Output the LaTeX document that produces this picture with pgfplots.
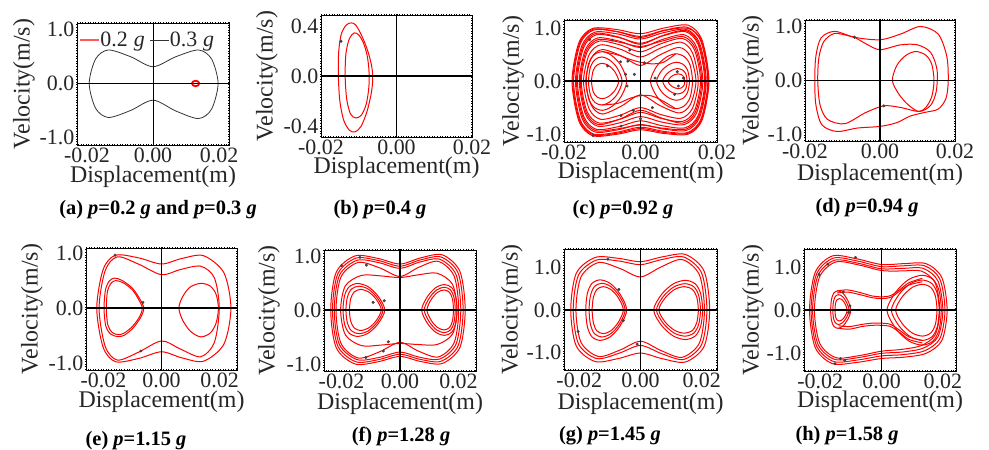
\documentclass[border=0pt]{standalone}
\usepackage{fontspec}
\setmainfont{Liberation Serif}
\usepackage{pgfplots}
\pgfplotsset{compat=1.18}
\newcommand\tfs{\fontsize{22}{25}\selectfont}
\newcommand\lfs{\fontsize{24}{27}\selectfont}
\newcommand\cfs{\fontsize{20.5}{23}\selectfont\bfseries}
\newcommand\bi[1]{\textbf{\textit{#1}}}
\pgfplotsset{
 panel/.style={
  scale only axis, clip=true, scaled ticks=false,
  axis line style={line width=0.6bp, black},
  tick style={draw=none},
  xtick={-0.02,0,0.02}, xticklabels={-0.02,0.00,0.02},
  ytick={-1,0,1}, yticklabels={-1.0,0.0,1.0},
  tick label style={font=\tfs, text=black!85},
  xticklabel style={anchor=north, inner sep=0pt, yshift=-3bp},
  yticklabel style={anchor=east, inner sep=0pt, xshift=-2.5bp},
  xlabel={Displacement(m)}, ylabel={Velocity(m/s)},
  label style={font=\lfs, text=black!85},
 },
 rl/.style={red, line width=1bp, smooth cycle},
 ro/.style={red, line width=1bp, smooth},
 dots/.style={only marks, mark=*, mark size=1.3bp, black!75},
 zl/.style={black, line width=1.7bp},
}
\begin{document}
\begin{tikzpicture}
\useasboundingbox (0,0) rectangle (989bp,450bp);

% ---------------- (a)
\begin{axis}[panel, name=a, at={(77bp,305bp)}, width=152bp, height=122bp,
 xmin=-0.023, xmax=0.023, ymin=-1.14, ymax=1.12,
 xlabel style={at={(axis description cs:0.5,0)}, anchor=center, yshift=-32bp},
 ylabel style={at={(axis description cs:-0.349,0.5)}, anchor=center},
 legend style={draw=none, fill=none, at={(axis description cs:0.015,0.86)}, anchor=west,
   legend columns=2, font=\tfs, inner sep=0pt, nodes={inner sep=0.6bp, text=black!85},
   /tikz/every even column/.append style={column sep=4bp}},
 legend cell align=left]
\addplot[red, line width=1.8bp, smooth cycle,
 legend image code/.code={\draw[red!65, line width=1.3bp] (0bp,0bp) -- (19bp,0bp);}]
 coordinates {(0.0118,0) (0.0121,0.035) (0.0129,0.05) (0.0137,0.035) (0.0140,0) (0.0137,-0.035) (0.0129,-0.05) (0.0121,-0.035)};
\addlegendentry{0.2\hspace{6bp}\textit{g}}
\addplot[black!80, line width=0.8bp, smooth cycle,
 legend image code/.code={\draw[black!80, line width=0.9bp] (0bp,0bp) -- (19bp,0bp);}]
 coordinates {(-0.0193,0) (-0.01737,0.453) (-0.01351,0.62) (-0.00676,0.495) (0,0.31) (0.0069,0.495) (0.01379,0.62) (0.01773,0.453) (0.0197,0) (0.01773,-0.475) (0.01379,-0.65) (0.0069,-0.51) (0,-0.31) (-0.00676,-0.50) (-0.01351,-0.63) (-0.01737,-0.46)};
\addlegendentry{0.3\hspace{6bp}\textit{g}}
\addplot[zl, forget plot] coordinates {(-0.03,0) (0.03,0)};
\addplot[black, line width=0.8bp, forget plot] coordinates {(0,-2) (0,2)};
\end{axis}

% ---------------- (b)
\begin{axis}[panel, name=b, at={(321bp,313bp)}, width=151bp, height=122bp,
 xmin=-0.02, xmax=0.02, ymin=-0.485, ymax=0.49,
 ytick={-0.4,0,0.4}, yticklabels={-0.4,0.0,0.4},
 xlabel style={at={(axis description cs:0.5,0)}, anchor=center, yshift=-30.5bp},
 ylabel style={at={(axis description cs:-0.358,0.5)}, anchor=center}]
\addplot[rl] coordinates {(-0.0154,0) (-0.0153,0.2) (-0.0146,0.34) (-0.0133,0.41) (-0.0120,0.427) (-0.0108,0.41) (-0.0093,0.33) (-0.0078,0.22) (-0.0067,0.1) (-0.0063,0) (-0.0066,-0.12) (-0.0078,-0.28) (-0.0094,-0.40) (-0.0110,-0.445) (-0.0125,-0.43) (-0.0140,-0.35) (-0.0150,-0.2)};
\addplot[rl] coordinates {(-0.0136,0) (-0.0134,0.18) (-0.0125,0.3) (-0.0112,0.347) (-0.0100,0.33) (-0.0088,0.27) (-0.0078,0.17) (-0.0073,0.05) (-0.0073,-0.08) (-0.0080,-0.22) (-0.0093,-0.31) (-0.0108,-0.333) (-0.0122,-0.3) (-0.0132,-0.18)};
\addplot[zl] coordinates {(-0.03,0) (0.03,0)};
\addplot[zl] coordinates {(0,-2) (0,2)};
\addplot[dots] coordinates {(-0.0147,0.28)};
\end{axis}

% ---------------- (c)
\begin{axis}[panel, name=c, at={(564bp,308bp)}, width=153bp, height=122bp,
 xmin=-0.02, xmax=0.02, ymin=-1.15, ymax=1.16,
 xlabel style={at={(axis description cs:0.5,0)}, anchor=center, yshift=-31bp},
 ylabel style={at={(axis description cs:-0.333,0.5)}, anchor=center}]
\addplot[rl] coordinates {(-0.0179,0) (-0.01611,0.73) (-0.01253,1.00) (-0.00627,0.98) (0,0.90) (0.00627,1.01) (0.01253,1.06) (0.01611,0.774) (0.0179,0) (0.01611,-0.73) (0.01253,-1.00) (0.00627,-0.99) (0,-0.92) (-0.00627,-1.005) (-0.01253,-1.03) (-0.01611,-0.752)};
\addplot[rl] coordinates {(-0.0177,0) (-0.01593,0.719) (-0.01239,0.985) (-0.0062,0.94) (0,0.83) (0.00621,0.96) (0.01243,1.00) (0.01598,0.76) (0.01775,0) (0.01598,-0.719) (0.01243,-0.985) (0.00621,-0.97) (0,-0.895) (-0.0062,-0.985) (-0.01239,-1.015) (-0.01593,-0.741)};
\addplot[rl] coordinates {(-0.0175,0) (-0.01575,0.708) (-0.01225,0.97) (-0.00613,0.94) (0,0.85) (0.00616,0.965) (0.01232,1.02) (0.01584,0.745) (0.0176,0) (0.01584,-0.708) (0.01232,-0.97) (0.00616,-0.95) (0,-0.87) (-0.00613,-0.965) (-0.01225,-1.00) (-0.01575,-0.73)};
\addplot[rl] coordinates {(-0.0170,0) (-0.0153,0.679) (-0.0119,0.93) (-0.00595,0.895) (0,0.80) (0.00602,0.92) (0.01204,0.98) (0.01548,0.715) (0.0172,0) (0.01548,-0.679) (0.01204,-0.93) (0.00602,-0.905) (0,-0.82) (-0.00595,-0.92) (-0.0119,-0.96) (-0.0153,-0.70)};
\addplot[rl] coordinates {(-0.01675,0) (-0.01508,0.66) (-0.01173,0.905) (-0.00587,0.84) (0,0.70) (0.00595,0.87) (0.0119,0.96) (0.0153,0.70) (0.017,0) (0.0153,-0.66) (0.0119,-0.905) (0.00595,-0.89) (0,-0.83) (-0.00587,-0.90) (-0.01173,-0.935) (-0.01508,-0.682)};
\addplot[rl] coordinates {(-0.0165,0) (-0.01485,0.642) (-0.01155,0.88) (-0.00578,0.83) (0,0.72) (0.00588,0.86) (0.01176,0.94) (0.01512,0.686) (0.0168,0) (0.01512,-0.642) (0.01176,-0.88) (0.00588,-0.845) (0,-0.75) (-0.00578,-0.86) (-0.01155,-0.91) (-0.01485,-0.664)};
\addplot[rl] coordinates {(-0.0160,0) (-0.0144,0.599) (-0.0112,0.82) (-0.0056,0.76) (0,0.64) (0.0057,0.79) (0.01141,0.88) (0.01467,0.642) (0.0163,0) (0.01467,-0.599) (0.01141,-0.82) (0.0057,-0.775) (0,-0.67) (-0.0056,-0.79) (-0.0112,-0.85) (-0.0144,-0.62)};
\addplot[rl] coordinates {(-0.01575,0) (-0.01418,0.577) (-0.01103,0.79) (-0.00552,0.74) (0,0.66) (0.0056,0.76) (0.0112,0.845) (0.0144,0.616) (0.016,0) (0.0144,-0.577) (0.0112,-0.79) (0.0056,-0.70) (0,-0.55) (-0.00552,-0.72) (-0.01103,-0.82) (-0.01418,-0.60)};
\addplot[rl] coordinates {(-0.0155,0) (-0.01395,0.555) (-0.01085,0.76) (-0.00543,0.69) (0,0.56) (0.0055,0.715) (0.01099,0.81) (0.01413,0.591) (0.0157,0) (0.01413,-0.555) (0.01099,-0.76) (0.0055,-0.705) (0,-0.59) (-0.00543,-0.72) (-0.01085,-0.79) (-0.01395,-0.577)};
\addplot[rl] coordinates {(-0.0149,0) (-0.01341,0.504) (-0.01043,0.69) (-0.00522,0.605) (0,0.46) (0.00529,0.63) (0.01057,0.74) (0.01359,0.54) (0.0151,0) (0.01359,-0.511) (0.01057,-0.70) (0.00529,-0.63) (0,-0.50) (-0.00522,-0.64) (-0.01043,-0.72) (-0.01341,-0.526)};
\addplot[rl] coordinates {(-0.0143,0) (-0.01287,0.438) (-0.01001,0.60) (-0.005,0.48) (0,0.30) (0.00508,0.50) (0.01015,0.64) (0.01305,0.467) (0.0145,0) (0.01305,-0.438) (0.01015,-0.60) (0.00508,-0.46) (0,-0.26) (-0.005,-0.47) (-0.01001,-0.62) (-0.01287,-0.453)};
\addplot[rl] coordinates {(-0.0128,0) (-0.01237,0.204) (-0.01138,0.306) (-0.00996,0.34) (-0.0084,0.299) (-0.00677,0.187) (-0.0057,0) (-0.00677,-0.182) (-0.0084,-0.29) (-0.00996,-0.33) (-0.01138,-0.297) (-0.01237,-0.198)};
\addplot[rl] coordinates {(-0.0136,0) (-0.01307,0.276) (-0.01184,0.414) (-0.01008,0.46) (-0.00814,0.405) (-0.00612,0.253) (-0.0048,0) (-0.00612,-0.248) (-0.00814,-0.396) (-0.01008,-0.45) (-0.01184,-0.405) (-0.01307,-0.27)};
\addplot[rl] coordinates {(-0.0142,0) (-0.01356,0.336) (-0.01208,0.504) (-0.00996,0.56) (-0.00763,0.493) (-0.00519,0.308) (-0.0036,0) (-0.00519,-0.303) (-0.00763,-0.484) (-0.00996,-0.55) (-0.01208,-0.495) (-0.01356,-0.33)};
\addplot[rl] coordinates {(0.0026,0) (0.00425,0.286) (0.00678,0.458) (0.0092,0.52) (0.0114,0.468) (0.01294,0.312) (0.0136,0) (0.01294,-0.312) (0.0114,-0.468) (0.0092,-0.52) (0.00678,-0.458) (0.00425,-0.286)};
\addplot[rl] coordinates {(0.0042,0) (0.00549,0.198) (0.00747,0.317) (0.00936,0.36) (0.01108,0.324) (0.01228,0.216) (0.0128,0) (0.01228,-0.216) (0.01108,-0.324) (0.00936,-0.36) (0.00747,-0.317) (0.00549,-0.198)};
\addplot[rl] coordinates {(0.0058,0) (0.00676,0.132) (0.00823,0.211) (0.00964,0.24) (0.01092,0.216) (0.01182,0.144) (0.0122,0) (0.01182,-0.144) (0.01092,-0.216) (0.00964,-0.24) (0.00823,-0.211) (0.00676,-0.132)};
\addplot[rl] coordinates {(0.0072,0) (0.00786,0.077) (0.00887,0.123) (0.00984,0.14) (0.01072,0.126) (0.01134,0.084) (0.0116,0) (0.01134,-0.084) (0.01072,-0.126) (0.00984,-0.14) (0.00887,-0.123) (0.00786,-0.077)};
\addplot[ro] coordinates {(-0.0098,0.56) (-0.006,0.50) (-0.003,0.42) (0,0.36) (0.003,0.33) (0.006,0.36) (0.0092,0.52)};
\addplot[ro] coordinates {(-0.0100,-0.45) (-0.006,-0.42) (-0.003,-0.33) (0,-0.27) (0.003,-0.28) (0.006,-0.38) (0.0092,-0.52)};
\addplot[zl] coordinates {(-0.03,0) (0.03,0)};
\addplot[zl] coordinates {(0,-2) (0,2)};
\addplot[dots] coordinates {(-0.0133,0.79) (-0.0074,0.78) (-0.0028,0.59) (-0.0052,0.37) (-0.0033,0.38) (-0.0086,0.29) (-0.0039,0.13) (-0.0016,0.13) (-0.0035,-0.09) (0.0010,0.35) (0.0038,0.06) (0.0096,0.18) (0.0112,0.06) (0.0099,-0.09) (0.0089,-0.25) (0,-0.27) (0.0031,-0.5) (-0.0019,-0.55) (-0.0051,-0.65) (0,-0.71) (-0.0051,-0.85) (-0.0124,-1.03)};
\end{axis}

% ---------------- (d)
\begin{axis}[panel, name=d, at={(805bp,309bp)}, width=150bp, height=121bp,
 xmin=-0.02, xmax=0.02, ymin=-1.12, ymax=1.12,
 xlabel style={at={(axis description cs:0.5,0)}, anchor=center, yshift=-34bp},
 ylabel style={at={(axis description cs:-0.347,0.5)}, anchor=center}]
\addplot[rl] coordinates {(-0.0174,0) (-0.0171,0.45) (-0.0157,0.79) (-0.0121,0.91) (-0.0068,0.80) (0,0.754) (0.0055,0.86) (0.0108,1.0) (0.0155,0.86) (0.0178,0.45) (0.0182,0) (0.0176,-0.33) (0.0155,-0.53) (0.0120,-0.59) (0.0080,-0.66) (0.0045,-0.78) (0,-0.85) (-0.0060,-0.88) (-0.0115,-0.944) (-0.0155,-0.82) (-0.0171,-0.45)};
\addplot[rl] coordinates {(-0.0166,0) (-0.0163,0.42) (-0.0150,0.72) (-0.0122,0.87) (-0.0085,0.83) (-0.0068,0.80) (-0.0035,0.67) (0,0.57) (0.0055,0.66) (0.0100,0.66) (0.0135,0.52) (0.0152,0.2) (0.0150,-0.2) (0.0135,-0.46) (0.0105,-0.574) (0.0055,-0.50) (0.001,-0.469) (-0.0040,-0.60) (-0.0094,-0.80) (-0.0140,-0.72) (-0.0160,-0.45)};
\addplot[rl] coordinates {(0.0033,0) (0.0045,0.28) (0.0068,0.46) (0.0095,0.537) (0.0122,0.47) (0.0138,0.3) (0.0144,0) (0.0138,-0.3) (0.0122,-0.5) (0.0103,-0.574) (0.0075,-0.45) (0.0050,-0.25)};
\addplot[zl] coordinates {(-0.03,0) (0.03,0)};
\addplot[zl] coordinates {(0,-2) (0,2)};
\addplot[dots] coordinates {(-0.0068,0.80) (0.001,-0.469)};
\end{axis}

% ---------------- (e)
\begin{axis}[panel, name=e, at={(86bp,80bp)}, width=151bp, height=122bp,
 xmin=-0.026, xmax=0.026, ymin=-1.12, ymax=1.09,
 xlabel style={at={(axis description cs:0.5,0)}, anchor=center, yshift=-31.5bp},
 ylabel style={at={(axis description cs:-0.358,0.5)}, anchor=center}]
\addplot[rl] coordinates {(-0.0223,0) (-0.0201,0.70) (-0.0158,0.96) (-0.0078,0.91) (0,0.80) (0.0070,0.90) (0.0145,0.95) (0.0215,0.64) (0.0239,0) (0.0215,-0.65) (0.0145,-0.96) (0.0070,-0.90) (0,-0.79) (-0.0078,-0.91) (-0.0158,-0.97) (-0.0201,-0.708)};
\addplot[rl] coordinates {(-0.0215,0) (-0.0194,0.68) (-0.0152,0.93) (-0.0080,0.80) (0,0.606) (0.0065,0.70) (0.0135,0.76) (0.0182,0.55) (0.0199,0) (0.0182,-0.62) (0.0135,-0.88) (0.0065,-0.74) (0,-0.594) (-0.0080,-0.80) (-0.0152,-0.94) (-0.0194,-0.69)};
\addplot[rl] coordinates {(-0.0198,0) (-0.0193,0.33) (-0.0180,0.49) (-0.0162,0.545) (-0.0135,0.50) (-0.0100,0.36) (-0.0075,0.17) (-0.0061,0) (-0.0072,-0.17) (-0.0098,-0.36) (-0.0128,-0.49) (-0.0150,-0.515) (-0.0175,-0.47) (-0.0192,-0.32)};
\addplot[rl] coordinates {(-0.0190,0) (-0.0186,0.31) (-0.0174,0.45) (-0.0158,0.50) (-0.0132,0.46) (-0.0100,0.33) (-0.0078,0.15) (-0.0066,0) (-0.0076,-0.16) (-0.0100,-0.33) (-0.0128,-0.45) (-0.0148,-0.48) (-0.0170,-0.44) (-0.0185,-0.30)};
\addplot[rl] coordinates {(0.0060,0) (0.0072,0.2) (0.0098,0.38) (0.0135,0.45) (0.0168,0.40) (0.0188,0.25) (0.0196,0) (0.0188,-0.27) (0.0168,-0.45) (0.0135,-0.52) (0.0100,-0.42) (0.0073,-0.22)};
\addplot[zl] coordinates {(-0.03,0) (0.03,0)};
\addplot[zl] coordinates {(0,-2) (0,2)};
\addplot[dots] coordinates {(-0.016,0.96) (-0.0064,0.103) (-0.0071,-0.776)};
\end{axis}

% ---------------- (f)
\begin{axis}[panel, name=f, at={(324bp,79bp)}, width=152bp, height=121bp,
 xmin=-0.026, xmax=0.026, ymin=-1.13, ymax=1.11,
 xlabel style={at={(axis description cs:0.5,0)}, anchor=center, yshift=-33bp},
 ylabel style={at={(axis description cs:-0.362,0.5)}, anchor=center}]
\addplot[rl] coordinates {(-0.0237,0) (-0.0218,0.70) (-0.0154,1.00) (-0.0076,0.955) (0,0.85) (0.00714,0.965) (0.0145,1.02) (0.0205,0.714) (0.0223,0) (0.0205,-0.693) (0.0145,-0.99) (0.00714,-0.955) (0,-0.86) (-0.0076,-0.96) (-0.0154,-1.00) (-0.0218,-0.70)};
\addplot[rl] coordinates {(-0.0231,0) (-0.02125,0.672) (-0.01502,0.96) (-0.00739,0.915) (0,0.81) (0.00691,0.925) (0.01404,0.98) (0.01987,0.686) (0.0216,0) (0.01987,-0.665) (0.01404,-0.95) (0.00691,-0.915) (0,-0.82) (-0.00739,-0.92) (-0.01502,-0.96) (-0.02125,-0.672)};
\addplot[rl] coordinates {(-0.0225,0) (-0.0207,0.644) (-0.01463,0.92) (-0.0072,0.875) (0,0.77) (0.00666,0.885) (0.01352,0.94) (0.01914,0.658) (0.0208,0) (0.01914,-0.637) (0.01352,-0.91) (0.00666,-0.875) (0,-0.78) (-0.0072,-0.88) (-0.01463,-0.92) (-0.0207,-0.644)};
\addplot[rl] coordinates {(-0.0219,0) (-0.02015,0.616) (-0.01424,0.88) (-0.007,0.78) (0,0.62) (0.00643,0.79) (0.01307,0.90) (0.01849,0.63) (0.0201,0) (0.01849,-0.609) (0.01307,-0.87) (0.00643,-0.765) (0,-0.60) (-0.007,-0.775) (-0.01424,-0.89) (-0.02015,-0.623)};
\addplot[rl] coordinates {(-0.0203,0) (-0.01868,0.448) (-0.0132,0.64) (-0.0065,0.63) (0,0.60) (0.00624,0.65) (0.01268,0.68) (0.01794,0.476) (0.0195,0) (0.01794,-0.448) (0.01268,-0.64) (0.00624,-0.64) (0,-0.62) (-0.0065,-0.65) (-0.0132,-0.66) (-0.01868,-0.462)};
\addplot[rl] coordinates {(-0.0195,0) (-0.01893,0.27) (-0.01735,0.431) (-0.0145,0.49) (-0.01092,0.431) (-0.00749,0.255) (-0.0052,0) (-0.00749,-0.255) (-0.01092,-0.431) (-0.0145,-0.49) (-0.01735,-0.431) (-0.01893,-0.27)};
\addplot[rl] coordinates {(-0.0185,0) (-0.01799,0.242) (-0.0166,0.387) (-0.01405,0.44) (-0.01088,0.387) (-0.00783,0.229) (-0.0058,0) (-0.00783,-0.229) (-0.01088,-0.387) (-0.01405,-0.44) (-0.0166,-0.387) (-0.01799,-0.242)};
\addplot[rl] coordinates {(-0.0173,0) (-0.01686,0.209) (-0.01566,0.334) (-0.01348,0.38) (-0.01076,0.334) (-0.00814,0.198) (-0.0064,0) (-0.00814,-0.198) (-0.01076,-0.334) (-0.01348,-0.38) (-0.01566,-0.334) (-0.01686,-0.209)};
\addplot[rl] coordinates {(0.0074,0) (0.00934,0.244) (0.01224,0.414) (0.01526,0.47) (0.01768,0.414) (0.01902,0.259) (0.0195,0) (0.01902,-0.259) (0.01768,-0.414) (0.01526,-0.47) (0.01224,-0.414) (0.00934,-0.244)};
\addplot[rl] coordinates {(0.0083,0) (0.0100,0.218) (0.01254,0.37) (0.01519,0.42) (0.01731,0.37) (0.01848,0.231) (0.0189,0) (0.01848,-0.231) (0.01731,-0.37) (0.01519,-0.42) (0.01254,-0.37) (0.0100,-0.218)};
\addplot[rl] coordinates {(0.0092,0) (0.01066,0.192) (0.01284,0.326) (0.01511,0.37) (0.01693,0.326) (0.01794,0.204) (0.0183,0) (0.01794,-0.204) (0.01693,-0.326) (0.01511,-0.37) (0.01284,-0.326) (0.01066,-0.192)};
\addplot[zl] coordinates {(-0.03,0) (0.03,0)};
\addplot[zl] coordinates {(0,-2) (0,2)};
\addplot[dots] coordinates {(-0.02,0.82) (-0.0137,0.975) (-0.0115,0.83) (-0.0092,0.14) (-0.0054,0.17) (-0.004,-0.59) (-0.0057,-0.76) (-0.0117,-0.88)};
\end{axis}

% ---------------- (g)
\begin{axis}[panel, name=g, at={(564bp,80bp)}, width=153bp, height=121bp,
 xmin=-0.025, xmax=0.025, ymin=-1.42, ymax=1.44,
 xlabel style={at={(axis description cs:0.5,0)}, anchor=center, yshift=-34bp},
 ylabel style={at={(axis description cs:-0.340,0.5)}, anchor=center}]
\addplot[rl] coordinates {(-0.0228,0) (-0.02098,0.868) (-0.01482,1.24) (-0.0073,1.22) (0,1.14) (0.00723,1.255) (0.01469,1.31) (0.02079,0.917) (0.0226,0) (0.02079,-0.861) (0.01469,-1.23) (0.00723,-1.155) (0,-1.02) (-0.0073,-1.15) (-0.01482,-1.22) (-0.02098,-0.854)};
\addplot[rl] coordinates {(-0.0220,0) (-0.02024,0.826) (-0.0143,1.18) (-0.00704,1.155) (0,1.07) (0.00694,1.19) (0.01411,1.25) (0.01996,0.875) (0.0217,0) (0.01996,-0.819) (0.01411,-1.17) (0.00694,-1.035) (0,-0.84) (-0.00704,-1.025) (-0.0143,-1.15) (-0.02024,-0.805)};
\addplot[rl] coordinates {(-0.0211,0) (-0.01941,0.784) (-0.01372,1.12) (-0.00675,0.98) (0,0.78) (0.00669,1.015) (0.01359,1.19) (0.01923,0.833) (0.0209,0) (0.01923,-0.784) (0.01359,-1.12) (0.00669,-0.96) (0,-0.74) (-0.00675,-0.95) (-0.01372,-1.10) (-0.01941,-0.77)};
\addplot[rl] coordinates {(-0.0179,0) (-0.01736,0.39) (-0.01589,0.625) (-0.01321,0.71) (-0.00986,0.625) (-0.00664,0.369) (-0.0045,0) (-0.00664,-0.374) (-0.00986,-0.634) (-0.01321,-0.72) (-0.01589,-0.634) (-0.01736,-0.396)};
\addplot[rl] coordinates {(-0.0168,0) (-0.01633,0.347) (-0.01503,0.554) (-0.01267,0.63) (-0.00972,0.554) (-0.00689,0.328) (-0.0050,0) (-0.00689,-0.333) (-0.00972,-0.563) (-0.01267,-0.64) (-0.01503,-0.563) (-0.01633,-0.352)};
\addplot[rl] coordinates {(-0.0158,0) (-0.01539,0.303) (-0.01427,0.484) (-0.01223,0.55) (-0.00968,0.484) (-0.00723,0.286) (-0.0056,0) (-0.00723,-0.291) (-0.00968,-0.493) (-0.01223,-0.56) (-0.01427,-0.493) (-0.01539,-0.308)};
\addplot[rl] coordinates {(0.0043,0) (0.00686,0.364) (0.0107,0.616) (0.0147,0.70) (0.0179,0.616) (0.01966,0.385) (0.0203,0) (0.01966,-0.385) (0.0179,-0.616) (0.0147,-0.70) (0.0107,-0.616) (0.00686,-0.364)};
\addplot[rl] coordinates {(0.0052,0) (0.0075,0.322) (0.01096,0.546) (0.01456,0.62) (0.01744,0.546) (0.01902,0.341) (0.0196,0) (0.01902,-0.341) (0.01744,-0.546) (0.01456,-0.62) (0.01096,-0.546) (0.0075,-0.322)};
\addplot[rl] coordinates {(0.0060,0) (0.00806,0.286) (0.01116,0.484) (0.01438,0.55) (0.01696,0.484) (0.01838,0.303) (0.0189,0) (0.01838,-0.303) (0.01696,-0.484) (0.01438,-0.55) (0.01116,-0.484) (0.00806,-0.286)};
\addplot[zl] coordinates {(-0.03,0) (0.03,0)};
\addplot[zl] coordinates {(0,-2) (0,2)};
\addplot[dots] coordinates {(-0.01065,1.2) (-0.00707,0.486) (-0.00565,-0.25) (-0.0204,-0.51) (-0.0011,-0.81)};
\end{axis}

% ---------------- (h)
\begin{axis}[panel, name=h, at={(804bp,79bp)}, width=152bp, height=122bp,
 xmin=-0.0253, xmax=0.0243, ymin=-1.41, ymax=1.42,
 xlabel style={at={(axis description cs:0.5,0)}, anchor=center, yshift=-31bp},
 ylabel style={at={(axis description cs:-0.336,0.5)}, anchor=center}]
\addplot[rl] coordinates {(-0.0235,0) (-0.02162,0.882) (-0.01598,1.26) (-0.00799,1.19) (0,1.06) (0.00728,1.08) (0.01455,1.08) (0.01969,0.756) (0.0214,0) (0.01969,-0.70) (0.01455,-1.00) (0.00728,-1.09) (0,-1.12) (-0.00799,-1.21) (-0.01598,-1.24) (-0.02162,-0.868)};
\addplot[rl] coordinates {(-0.0230,0) (-0.02116,0.847) (-0.01564,1.21) (-0.00782,1.14) (0,1.01) (0.00704,1.03) (0.01408,1.03) (0.01904,0.721) (0.0207,0) (0.01904,-0.658) (0.01408,-0.94) (0.00704,-1.03) (0,-1.06) (-0.00782,-1.155) (-0.01564,-1.19) (-0.02116,-0.833)};
\addplot[rl] coordinates {(-0.0225,0) (-0.0207,0.812) (-0.0153,1.16) (-0.00765,1.09) (0,0.96) (0.0068,0.97) (0.0136,0.97) (0.0184,0.679) (0.0200,0) (0.0184,-0.616) (0.0136,-0.88) (0.0068,-0.97) (0,-1.0) (-0.00765,-1.10) (-0.0153,-1.14) (-0.0207,-0.798)};
\addplot[rl] coordinates {(-0.0219,0) (-0.02015,0.784) (-0.01489,1.12) (-0.00745,1.05) (0,0.92) (0.00646,0.91) (0.01292,0.91) (0.01748,0.637) (0.0190,0) (0.01748,-0.574) (0.01292,-0.82) (0.00646,-0.91) (0,-0.95) (-0.00745,-1.055) (-0.01489,-1.10) (-0.02015,-0.77)};
\addplot[rl] coordinates {(0.0018,0) (0.00463,0.421) (0.00888,0.713) (0.0133,0.81) (0.01684,0.713) (0.01879,0.446) (0.0195,0) (0.01879,-0.446) (0.01684,-0.713) (0.0133,-0.81) (0.00888,-0.713) (0.00463,-0.421)};
\addplot[rl] coordinates {(0.0032,0) (0.0057,0.364) (0.00944,0.616) (0.01334,0.70) (0.01646,0.616) (0.01818,0.385) (0.0188,0) (0.01818,-0.385) (0.01646,-0.616) (0.01334,-0.70) (0.00944,-0.616) (0.0057,-0.364)};
\addplot[rl] coordinates {(0.0046,0) (0.00676,0.312) (0.0100,0.528) (0.01337,0.60) (0.01607,0.528) (0.01756,0.33) (0.0181,0) (0.01756,-0.33) (0.01607,-0.528) (0.01337,-0.60) (0.0100,-0.528) (0.00676,-0.312)};
\addplot[rl] coordinates {(-0.0166,0) (-0.01634,0.248) (-0.01561,0.396) (-0.01429,0.45) (-0.01264,0.396) (-0.01106,0.234) (-0.0100,0) (-0.01106,-0.218) (-0.01264,-0.37) (-0.01429,-0.42) (-0.01561,-0.37) (-0.01634,-0.231)};
\addplot[rl] coordinates {(-0.0159,0) (-0.01569,0.198) (-0.0151,0.317) (-0.01404,0.36) (-0.01272,0.317) (-0.01145,0.187) (-0.0106,0) (-0.01145,-0.172) (-0.01272,-0.29) (-0.01404,-0.33) (-0.0151,-0.29) (-0.01569,-0.182)};
\addplot[rl] coordinates {(-0.0152,0) (-0.01504,0.149) (-0.0146,0.238) (-0.0138,0.27) (-0.0128,0.238) (-0.01184,0.14) (-0.0112,0) (-0.01184,-0.13) (-0.0128,-0.22) (-0.0138,-0.25) (-0.0146,-0.22) (-0.01504,-0.138)};
\addplot[ro] coordinates {(-0.0145,0.45) (-0.0110,0.47) (-0.0070,0.41) (-0.0030,0.33) (0,0.31) (0.0030,0.34) (0.0060,0.48) (0.0090,0.64) (0.0133,0.74)};
\addplot[ro] coordinates {(-0.0145,0.40) (-0.0110,0.42) (-0.0070,0.36) (-0.0030,0.29) (0,0.27) (0.0030,0.30) (0.0055,0.42) (0.0088,0.58) (0.0133,0.66)};
\addplot[ro] coordinates {(-0.0140,-0.42) (-0.0105,-0.44) (-0.0065,-0.38) (-0.0030,-0.35) (0,-0.35) (0.0030,-0.38) (0.0060,-0.52) (0.0090,-0.68) (0.0133,-0.76)};
\addplot[ro] coordinates {(-0.0140,-0.36) (-0.0105,-0.38) (-0.0065,-0.33) (-0.0030,-0.30) (0,-0.30) (0.0030,-0.33) (0.0058,-0.46) (0.0090,-0.62) (0.0133,-0.70)};
\addplot[zl] coordinates {(-0.03,0) (0.03,0)};
\addplot[zl] coordinates {(0,-2) (0,2)};
\addplot[dots] coordinates {(-0.00848,1.225) (-0.0175,1.07) (-0.0204,0.83) (-0.0125,0.426) (-0.0103,0.10) (-0.0107,-0.054) (-0.0134,-1.124) (-0.012,-1.163) (-0.0152,-1.24)};
\end{axis}

% frames with dense dotted ticks
\foreach \n in {a,b,c,d,e,f,g,h}{
 \draw[black, line width=0.7bp] (\n.south west) rectangle (\n.north east);
 \draw[black, line width=1.8bp, dash pattern=on 1bp off 1.6bp] (\n.south west) rectangle (\n.north east);
}

% captions
\node[font=\cfs] at (158bp,240bp) {(a) \bi{p}=0.2 \bi{g} and \bi{p}=0.3 \bi{g}};
\node[font=\cfs] at (380bp,240bp) {(b) \bi{p}=0.4 \bi{g}};
\node[font=\cfs] at (623bp,240bp) {(c) \bi{p}=0.92 \bi{g}};
\node[font=\cfs] at (867bp,242bp) {(d) \bi{p}=0.94 \bi{g}};
\node[font=\cfs] at (136bp,9bp) {(e) \bi{p}=1.15 \bi{g}};
\node[font=\cfs] at (401bp,14bp) {(f) \bi{p}=1.28 \bi{g}};
\node[font=\cfs] at (610bp,14bp) {(g) \bi{p}=1.45 \bi{g}};
\node[font=\cfs] at (847bp,14bp) {(h) \bi{p}=1.58 \bi{g}};
\end{tikzpicture}
\end{document}
